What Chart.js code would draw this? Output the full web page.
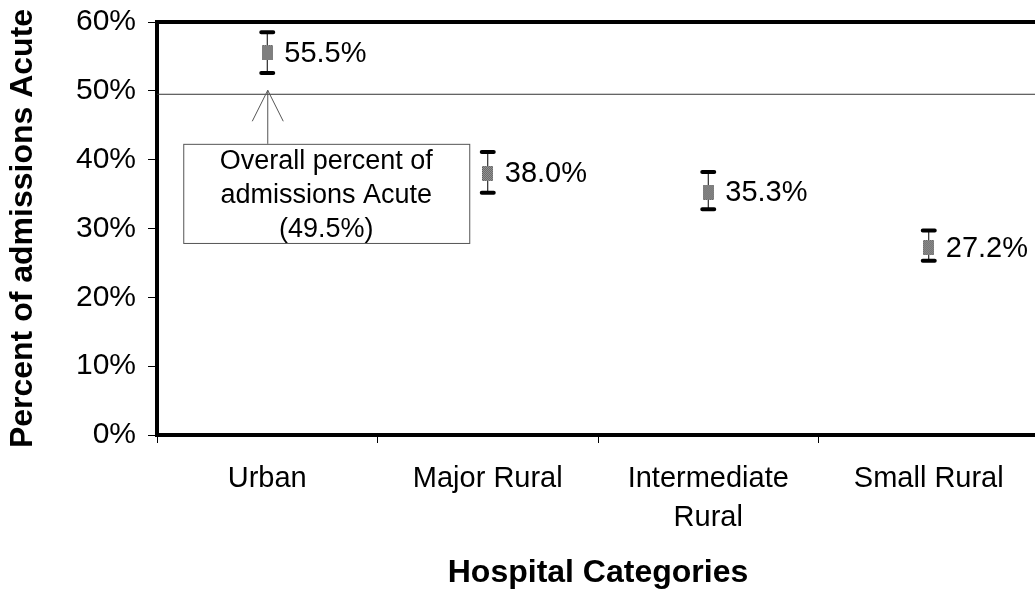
<!DOCTYPE html>
<html>
<head>
<meta charset="utf-8">
<script src="https://cdn.jsdelivr.net/npm/chart.js@4/dist/chart.umd.min.js"></script>
<style>
  html, body { margin: 0; padding: 0; background: #fff; overflow: hidden; }
  /* le cadre du graphique sort un peu a droite, comme sur l'original */
  #wrap { width: 1035px; height: 592px; overflow: hidden; }
</style>
</head>
<body>
<div id="wrap"><canvas id="acuteChart" width="1047" height="592"></canvas></div>
<script>
// donnees
const categories = ['Urban', 'Major Rural', ['Intermediate', 'Rural'], 'Small Rural'];
const percentAcute = [55.5, 38.0, 35.3, 27.2];
const lowerCI = [52.6, 35.2, 32.8, 25.3];
const upperCI = [58.5, 41.1, 38.2, 29.7];
const overallPercent = 49.5;
const yTicks = [0, 10, 20, 30, 40, 50, 60];
const boxLines = ['Overall percent of', 'admissions Acute', '(49.5%)'];

const FONT = '"Liberation Sans", Arial, sans-serif';

// petit marqueur gris tramé
function makeMarker() {
    const c = document.createElement('canvas');
    c.width = 11; c.height = 15;
    const g = c.getContext('2d');
    for (let y = 0; y < c.height; y++) {
        for (let x = 0; x < c.width; x++) {
            g.fillStyle = (x + y) % 2 ? '#555' : '#aaa';
            g.fillRect(x, y, 1, 1);
        }
    }
    return c;
}

// ligne de reference + barres d'erreur
const errorBars = {
    id: 'errorBars',
    beforeDatasetsDraw(chart) {
        const { ctx, chartArea, scales: { x, y } } = chart;
        ctx.save();
        const yRef = y.getPixelForValue(overallPercent);
        ctx.strokeStyle = '#333';
        ctx.lineWidth = 1;
        ctx.beginPath();
        ctx.moveTo(chartArea.left, yRef);
        ctx.lineTo(chartArea.right, yRef);
        ctx.stroke();

        ctx.strokeStyle = '#000';
        ctx.lineCap = 'round';
        percentAcute.forEach((v, i) => {
            const px = x.getPixelForValue(i);
            const yTop = y.getPixelForValue(upperCI[i]);
            const yBot = y.getPixelForValue(lowerCI[i]);
            ctx.lineWidth = 1;
            ctx.beginPath();
            ctx.moveTo(px, yTop);
            ctx.lineTo(px, yBot);
            ctx.stroke();
            ctx.lineWidth = 4;
            ctx.beginPath();
            ctx.moveTo(px - 6, yTop); ctx.lineTo(px + 6, yTop);
            ctx.moveTo(px - 6, yBot); ctx.lineTo(px + 6, yBot);
            ctx.stroke();
        });
        ctx.restore();
    },
    afterDatasetsDraw(chart) {
        const { ctx, chartArea, scales: { x, y } } = chart;
        ctx.save();
        // bordure du haut
        ctx.strokeStyle = '#000';
        ctx.lineWidth = 4;
        ctx.beginPath();
        ctx.moveTo(chartArea.left - 2, chartArea.top);
        ctx.lineTo(chartArea.right, chartArea.top);
        ctx.stroke();

        // etiquettes des valeurs
        ctx.fillStyle = '#000';
        ctx.font = '29px ' + FONT;
        ctx.textAlign = 'left';
        ctx.textBaseline = 'middle';
        percentAcute.forEach((v, i) => {
            ctx.fillText(v.toFixed(1) + '%', x.getPixelForValue(i) + 17, y.getPixelForValue(v) + 1);
        });

        // encadre + fleche
        const cx = x.getPixelForValue(0);
        const left = cx - 84, right = cx + 202;
        const top = y.getPixelForValue(42.3), bottom = y.getPixelForValue(27.9);
        const yRef = y.getPixelForValue(overallPercent);
        ctx.fillStyle = '#fff';
        ctx.fillRect(left, top, right - left, bottom - top);
        ctx.strokeStyle = '#555';
        ctx.lineWidth = 1;
        ctx.strokeRect(left + 0.5, top + 0.5, right - left, bottom - top);
        ctx.beginPath();
        ctx.moveTo(cx + 0.5, top);
        ctx.lineTo(cx + 0.5, yRef - 4);
        ctx.moveTo(cx - 15, yRef + 27);
        ctx.lineTo(cx + 0.5, yRef - 4);
        ctx.lineTo(cx + 16, yRef + 27);
        ctx.stroke();
        ctx.fillStyle = '#000';
        ctx.font = '27px ' + FONT;
        ctx.textAlign = 'center';
        boxLines.forEach((t, k) => {
            ctx.fillText(t, (left + right) / 2, top + 18 + k * 34);
        });
        ctx.restore();
    }
};

new Chart(document.getElementById('acuteChart'), {
    type: 'line',
    data: {
        labels: categories,
        datasets: [{
            data: percentAcute,
            showLine: false,
            pointStyle: makeMarker(),
            pointRadius: 7,
            pointHoverRadius: 7
        }]
    },
    options: {
        responsive: false,
        animation: false,
        events: [],
        plugins: {
            legend: { display: false },
            tooltip: { enabled: false }
        },
        scales: {
            x: {
                offset: true,
                afterFit(scale) { scale.height = 157; },
                grid: {
                    offset: true,
                    drawOnChartArea: false,
                    tickLength: 8,
                    color: '#000',
                    lineWidth: 1
                },
                border: { display: true, color: '#000', width: 4 },
                ticks: {
                    color: '#000',
                    padding: 16,
                    maxRotation: 0,
                    autoSkip: false,
                    font: { family: FONT, size: 29, lineHeight: 1.35 }
                },
                title: {
                    display: true,
                    text: 'Hospital Categories',
                    color: '#000',
                    padding: { top: 0, bottom: 0 },
                    font: { family: FONT, size: 32, weight: 'bold' }
                }
            },
            y: {
                min: 0,
                max: 60,
                afterFit(scale) {
                    scale.width = 157;
                    scale.paddingTop = 22;
                    scale.paddingBottom = 0;
                },
                afterBuildTicks(scale) { scale.ticks = yTicks.map(v => ({ value: v })); },
                grid: {
                    drawOnChartArea: false,
                    tickLength: 9,
                    color: '#000',
                    lineWidth: 1
                },
                border: { display: true, color: '#000', width: 4 },
                ticks: {
                    color: '#000',
                    padding: 12,
                    font: { family: FONT, size: 30 },
                    callback: v => v + '%'
                },
                title: {
                    display: true,
                    text: 'Percent of admissions Acute',
                    color: '#000',
                    padding: { top: 4, bottom: 0 },
                    font: { family: FONT, size: 32, weight: 'bold' }
                }
            }
        }
    },
    plugins: [errorBars]
});
</script>
</body>
</html>
